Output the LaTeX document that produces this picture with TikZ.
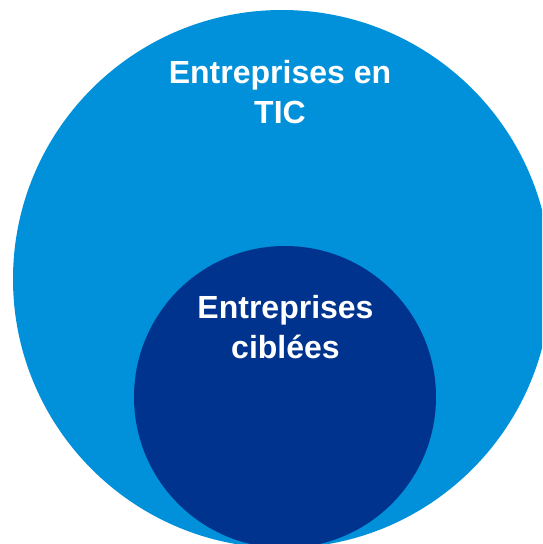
\documentclass[tikz,border=0pt]{standalone}
\usepackage{fontspec}
\setmainfont{Liberation Sans}
\definecolor{lightblue}{HTML}{0091DA}
\definecolor{darkblue}{HTML}{00338D}
\begin{document}
\begin{tikzpicture}[x={(1pt,0)},y={(0,-1pt)},
  disc/.style={circle,inner sep=0pt,draw=none},
  label/.style={text=white,align=center,inner sep=0pt,
    font=\fontsize{32}{40}\selectfont\bfseries}]
\useasboundingbox (0,0) rectangle (542,544);
\clip (0,0) rectangle (542,544);
\node[disc,fill=lightblue,minimum size=538pt] (big) at (282,279) {};
\node[disc,fill=darkblue,minimum size=302pt] (small) at (285,397) {};
\node[label] (tic) at (280,92) {Entreprises en\\TIC};
\node[label] (cib) at (285.5,327) {Entreprises\\ciblées};
\end{tikzpicture}
\end{document}
